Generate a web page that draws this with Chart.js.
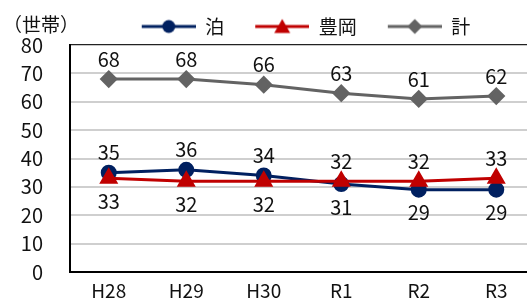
<!DOCTYPE html>
<html>
<head>
<meta charset="utf-8">
<script src="https://cdn.jsdelivr.net/npm/chart.js@4"></script>
<style>
  html, body { margin: 0; padding: 0; background: #fff; overflow: hidden; }
  #wrap { position: relative; width: 535px; height: 311px; }
</style>
</head>
<body>
<div id="wrap"><canvas id="households-chart"></canvas></div>
<script>
const years = ["H28", "H29", "H30", "R1", "R2", "R3"];
const tomari = [35, 36, 34, 31, 29, 29];
const toyooka = [33, 32, 32, 32, 32, 33];
const total = [68, 68, 66, 63, 61, 62];

const FONT = "'Noto Sans CJK JP', 'Noto Sans', sans-serif";
const SW_GAP = 23; // transparent space left of each legend swatch

// line + marker swatch for the legend
function swatch(color, style) {
  const c = document.createElement("canvas");
  c.width = 54 + SW_GAP;
  c.height = 18;
  const g = c.getContext("2d");
  const x0 = SW_GAP;
  const cx = x0 + 27;
  g.strokeStyle = color;
  g.lineWidth = 3;
  g.beginPath();
  g.moveTo(x0, 9);
  g.lineTo(x0 + 54, 9);
  g.stroke();
  g.fillStyle = color;
  g.beginPath();
  if (style === "circle") {
    g.arc(cx, 9, 6.5, 0, Math.PI * 2);
  } else if (style === "triangle") {
    g.moveTo(cx, 1.5);
    g.lineTo(cx + 8, 15.5);
    g.lineTo(cx - 8, 15.5);
    g.closePath();
  } else {
    g.moveTo(cx, 1.5);
    g.lineTo(cx + 7.5, 9);
    g.lineTo(cx, 16.5);
    g.lineTo(cx - 7.5, 9);
    g.closePath();
  }
  g.fill();
  return c;
}

const valueLabels = {
  id: "valueLabels",
  afterDatasetsDraw(chart) {
    const ctx = chart.ctx;
    ctx.save();
    ctx.font = "20px " + FONT;
    ctx.fillStyle = "#111";
    ctx.textAlign = "center";
    ctx.textBaseline = "middle";
    chart.data.datasets.forEach((ds, i) => {
      const meta = chart.getDatasetMeta(i);
      meta.data.forEach((pt, j) => {
        const dy = ds.labelPos[j] === "top" ? -20 : 23;
        ctx.fillText(String(ds.data[j]), pt.x, pt.y + dy);
      });
    });
    ctx.restore();
  }
};

const unitTitle = {
  id: "unitTitle",
  afterLayout(chart) {
    // nudge legend a little left, like the original
    chart.legend.left -= 8;
    chart.legend.right -= 8;
  },
  afterDraw(chart) {
    const ctx = chart.ctx;
    ctx.save();
    ctx.font = "19px " + FONT;
    ctx.fillStyle = "#111";
    ctx.textAlign = "left";
    ctx.textBaseline = "middle";
    ctx.fillText("（世帯）", 3, 25);
    ctx.restore();
  }
};

const ctx = document.getElementById("households-chart").getContext("2d");

new Chart(ctx, {
  type: "line",
  data: {
    labels: years,
    datasets: [
      {
        label: "泊",
        data: tomari,
        borderColor: "#002060",
        backgroundColor: "#002060",
        pointStyle: "circle",
        pointRadius: 6.5,
        borderWidth: 3,
        order: 1,
        swatch: swatch("#002060", "circle"),
        labelPos: ["top", "top", "top", "bottom", "bottom", "bottom"]
      },
      {
        label: "豊岡",
        data: toyooka,
        borderColor: "#C00000",
        backgroundColor: "#C00000",
        pointStyle: "triangle",
        pointRadius: 8,
        borderWidth: 3,
        order: 0,
        swatch: swatch("#C00000", "triangle"),
        labelPos: ["bottom", "bottom", "bottom", "top", "top", "top"]
      },
      {
        label: "計",
        data: total,
        borderColor: "#636363",
        backgroundColor: "#636363",
        pointStyle: "rectRot",
        pointRadius: 7,
        borderWidth: 3,
        order: 2,
        swatch: swatch("#636363", "diamond"),
        labelPos: ["top", "top", "top", "top", "top", "top"]
      }
    ]
  },
  options: {
    responsive: true,
    maintainAspectRatio: false,
    animation: false,
    layout: { autoPadding: false, padding: { top: 9, right: 0, left: 0, bottom: 0 } },
    elements: {
      line: { tension: 0 },
      point: { borderWidth: 0 }
    },
    plugins: {
      tooltip: { enabled: false },
      legend: {
        position: "top",
        fullSize: false,
        maxHeight: 36,
        labels: {
          usePointStyle: true,
          pointStyleWidth: 54 + SW_GAP,
          padding: 8,
          color: "#111",
          font: { family: FONT, size: 19 },
          generateLabels(chart) {
            return chart.data.datasets.map((ds, i) => ({
              text: ds.label,
              pointStyle: ds.swatch,
              fillStyle: ds.borderColor,
              strokeStyle: ds.borderColor,
              lineWidth: 0,
              fontColor: "#111",
              datasetIndex: i
            }));
          }
        }
      }
    },
    scales: {
      x: {
        offset: true,
        grid: { display: false, drawTicks: false, offset: true },
        border: { color: "#000", width: 2 },
        ticks: {
          padding: 7,
          color: "#111",
          font: { family: FONT, size: 19 }
        },
        afterFit(scale) { scale.height = 28; }
      },
      y: {
        min: 0,
        max: 80,
        ticks: {
          stepSize: 10,
          autoSkip: false,
          padding: 27,
          color: "#111",
          font: { family: FONT, size: 20 }
        },
        grid: {
          drawTicks: false,
          lineWidth: (c) => (c.tick && c.tick.value === 80 ? 1.2 : 2),
          color: (c) => (c.tick && c.tick.value === 80 ? "#222" : "#cfcfcf")
        },
        border: { color: "#000", width: 2 },
        afterFit(scale) { scale.width = 70; }
      }
    }
  },
  plugins: [valueLabels, unitTitle]
});
</script>
</body>
</html>
